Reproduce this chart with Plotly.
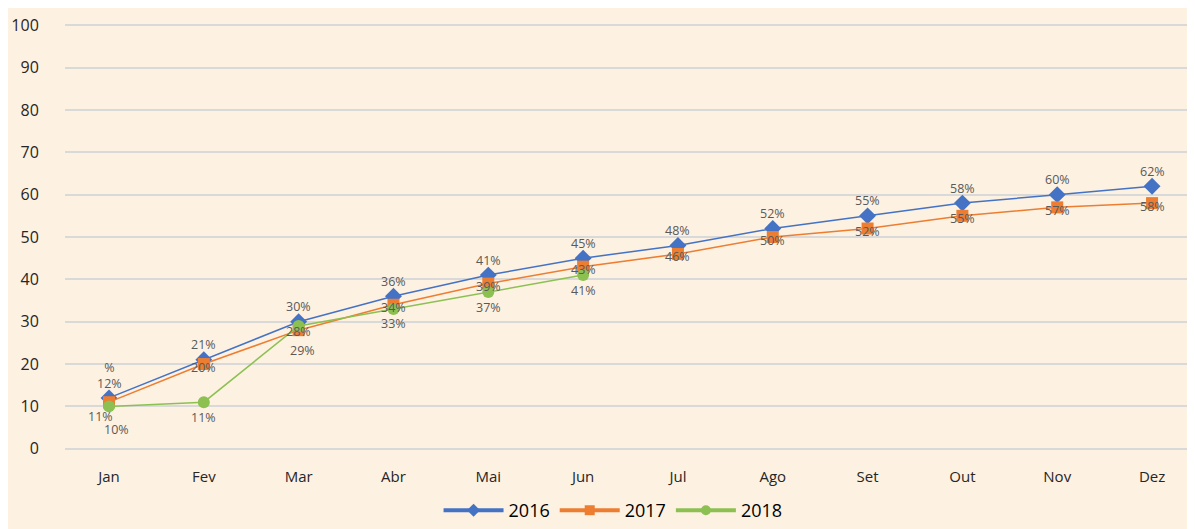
import plotly.graph_objects as go

months = ["Jan", "Fev", "Mar", "Abr", "Mai", "Jun", "Jul", "Ago", "Set", "Out", "Nov", "Dez"]
v2016 = [12, 21, 30, 36, 41, 45, 48, 52, 55, 58, 60, 62]
v2017 = [11, 20, 28, 34, 39, 43, 46, 50, 52, 55, 57, 58]
v2018 = [10, 11, 29, 33, 37, 41]
y_ticks = [0, 10, 20, 30, 40, 50, 60, 70, 80, 90, 100]

BG = "#FDF1E2"
FONT = "Open Sans"
series = [
    ("2016", v2016, "#4472C4", "diamond", 13, 15),
    ("2017", v2017, "#ED7D31", "square", 12, -3),
    ("2018", v2018, "#8CC152", "circle", 12, -15),
]

fig = go.Figure()
x_idx = list(range(len(months)))
annotations = []
for name, vals, color, sym, msize, shift in series:
    xs = x_idx[:len(vals)]
    fig.add_trace(go.Scatter(
        x=xs, y=vals, name=name, mode="lines+markers", showlegend=False,
        line=dict(color=color, width=1.5),
        marker=dict(symbol=sym, size=msize, color=color),
    ))
    # legend-only entry with the thicker legend stroke
    fig.add_trace(go.Scatter(
        x=[None], y=[None], name=name, mode="lines+markers",
        line=dict(color=color, width=4),
        marker=dict(symbol=sym, size=10, color=color),
    ))
    for i, v in zip(xs, vals):
        xs_shift = 0
        ys = shift
        txt = f"{v}%"
        if i == 0:
            if name == "2016":
                txt = "%<br>" + txt
                ys = 22
            elif name == "2017":
                ys = -14
                xs_shift = -9
            else:
                ys = -23
                xs_shift = 7
        if name == "2018" and i == 2:
            ys = -25
            xs_shift = 4
        if name == "2017" and i == 2:
            ys = -1
        annotations.append(dict(
            x=i, y=v, xref="x", yref="y", text=txt, showarrow=False,
            yshift=ys, xshift=xs_shift,
            font=dict(family=FONT, size=12.5, color="#595959"),
        ))

fig.update_layout(
    width=1187, height=521,
    paper_bgcolor=BG, plot_bgcolor=BG,
    margin=dict(l=57, r=0, t=16, b=79),
    font=dict(family=FONT, color="#262626"),
    annotations=annotations,
    showlegend=True,
    legend=dict(
        orientation="h", x=0.485, xanchor="center",
        yref="container", y=-0.005, yanchor="bottom",
        font=dict(family=FONT, size=18, color="#000000"),
        bgcolor="rgba(0,0,0,0)", itemwidth=60, tracegroupgap=0,
    ),
    xaxis=dict(
        tickmode="array", tickvals=x_idx, ticktext=months,
        range=[-0.464, 11.453], showgrid=False, zeroline=False,
        showline=False, ticks="outside", ticklen=13,
        tickcolor="rgba(0,0,0,0)",
        tickfont=dict(family=FONT, size=15, color="#262626"),
    ),
    yaxis=dict(
        tickmode="array", tickvals=y_ticks,
        range=[-0.3, 100.3], showgrid=True, gridcolor="#D9D9D9", gridwidth=1.5,
        zeroline=False, showline=False, ticks="outside", ticklen=22,
        tickcolor="rgba(0,0,0,0)",
        tickfont=dict(family=FONT, size=16, color="#262626"),
    ),
)

fig.write_html("out.html")
